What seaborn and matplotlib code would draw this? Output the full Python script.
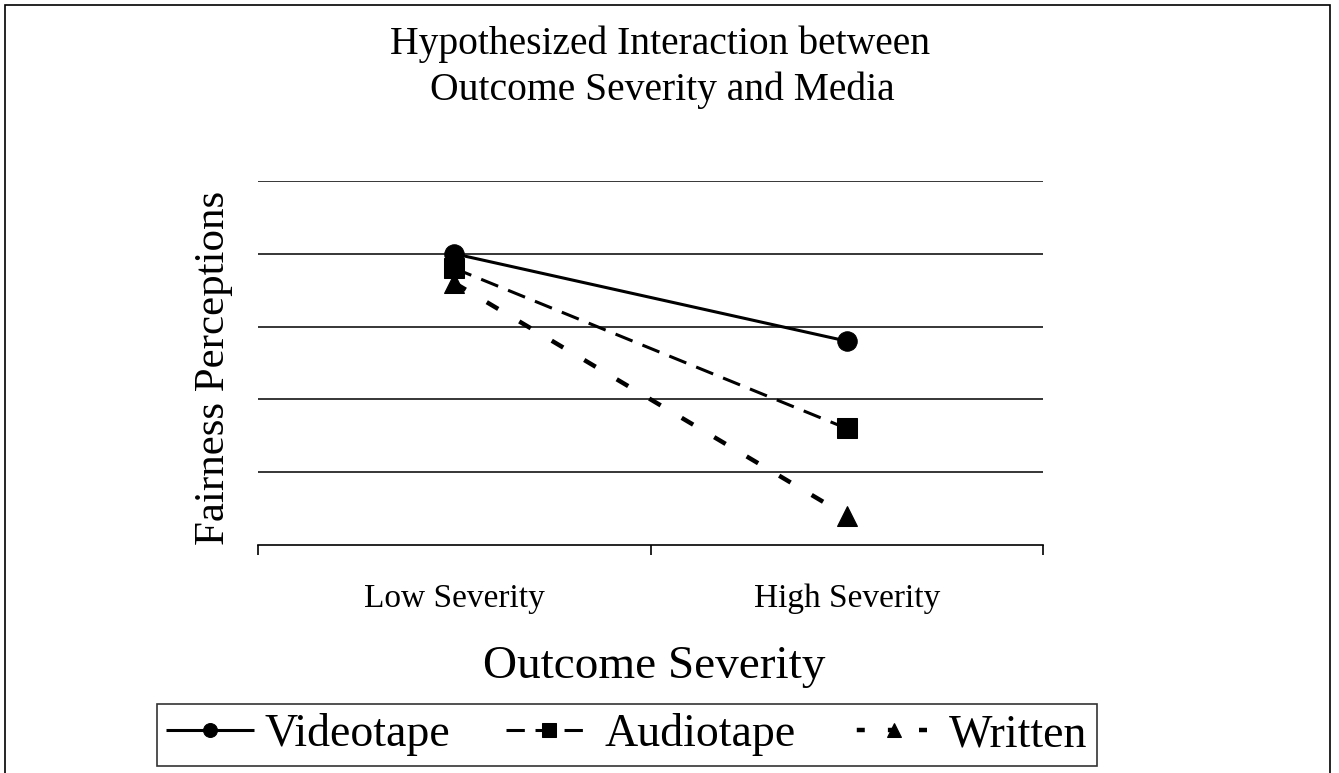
import pandas as pd
import seaborn as sns
import matplotlib.pyplot as plt
from matplotlib.patches import Rectangle

# data (y scale 0-5, no tick labels shown)
severity = ['Low Severity', 'High Severity']
media = ['Videotape', 'Audiotape', 'Written']
videotape = [4.0, 2.8]
audiotape = [3.8, 1.6]
written = [3.6, 0.4]

df = pd.DataFrame({
    'Outcome Severity': severity * 3,
    'Fairness': videotape + audiotape + written,
    'Media': [m for m in media for _ in severity],
})

sns.set_theme(style='white')
plt.rcParams['font.family'] = ['Liberation Serif', 'DejaVu Serif']
plt.rcParams['text.color'] = 'black'
plt.rcParams['axes.labelcolor'] = 'black'
plt.rcParams['xtick.color'] = 'black'

fig = plt.figure(figsize=(13.39, 7.73), dpi=100)
ax = fig.add_axes([0.1927, 0.2950, 0.5863, 0.4709])

sns.lineplot(data=df, x='Outcome Severity', y='Fairness', hue='Media', style='Media',
             palette=['black'] * 3, markers=['o', 's', '^'],
             dashes=[(1, 0), (6, 3.5), (3.5, 6.5)], markersize=14, linewidth=2.2,
             markeredgecolor='black', ax=ax, legend=True)
# the written line is drawn with thicker, shorter dashes
ax.lines[2].set_linewidth(3.2)
ax.lines[2].set_linestyle((0, (3, 5.5)))

ax.set_xlim(-0.5, 1.5)
ax.set_ylim(0, 5)
ax.set_yticks([1, 2, 3, 4, 5])
ax.set_yticklabels([])
ax.tick_params(axis='y', length=0)
ax.yaxis.grid(True, color='black', linewidth=1.1)
ax.set_xticks([0, 1])
ax.set_xticks([-0.5, 0.5, 1.5], minor=True)
ax.tick_params(axis='x', which='major', length=0, labelsize=24, pad=28)
ax.tick_params(axis='x', which='minor', length=7, width=1.2, color='black', bottom=True)
for s in ['top', 'right', 'left']:
    ax.spines[s].set_visible(False)
ax.spines['bottom'].set_color('black')
ax.spines['bottom'].set_linewidth(1.2)

ax.set_xlabel('Outcome Severity', fontsize=34, va='center')
ax.xaxis.set_label_coords(0.505, -0.335)
ax.set_ylabel('Fairness Perceptions', fontsize=31, va='center')
ax.yaxis.set_label_coords(-0.057, 0.485)

fig.text(660 / 1339, 1 - 54 / 773, 'Hypothesized Interaction between',
         ha='center', va='baseline', fontsize=28.5)
fig.text(662 / 1339, 1 - 100 / 773, 'Outcome Severity and Media',
         ha='center', va='baseline', fontsize=28.5)

handles, labels = ax.get_legend_handles_labels()
ax.get_legend().remove()
for h in handles:
    h.set_markersize(10)
handles[2].set_linewidth(3.2)
handles[2].set_linestyle((5.7, (1.8, 5.2)))
leg = fig.legend(handles, labels, loc='center', bbox_to_anchor=(627 / 1339, 1 - 735 / 773),
                 ncol=3, fontsize=33, frameon=True, fancybox=False, edgecolor='black',
                 handlelength=1.9, handletextpad=0.25, columnspacing=1.2, borderpad=0.2,
                 borderaxespad=0)
leg.get_frame().set_linewidth(1.2)

fig.patches.append(Rectangle((5 / 1339, -0.02), 1325 / 1339, 1.02 - 5 / 773, transform=fig.transFigure,
                             fill=False, edgecolor='black', linewidth=1.2))

fig.savefig('out.png', dpi=100)
